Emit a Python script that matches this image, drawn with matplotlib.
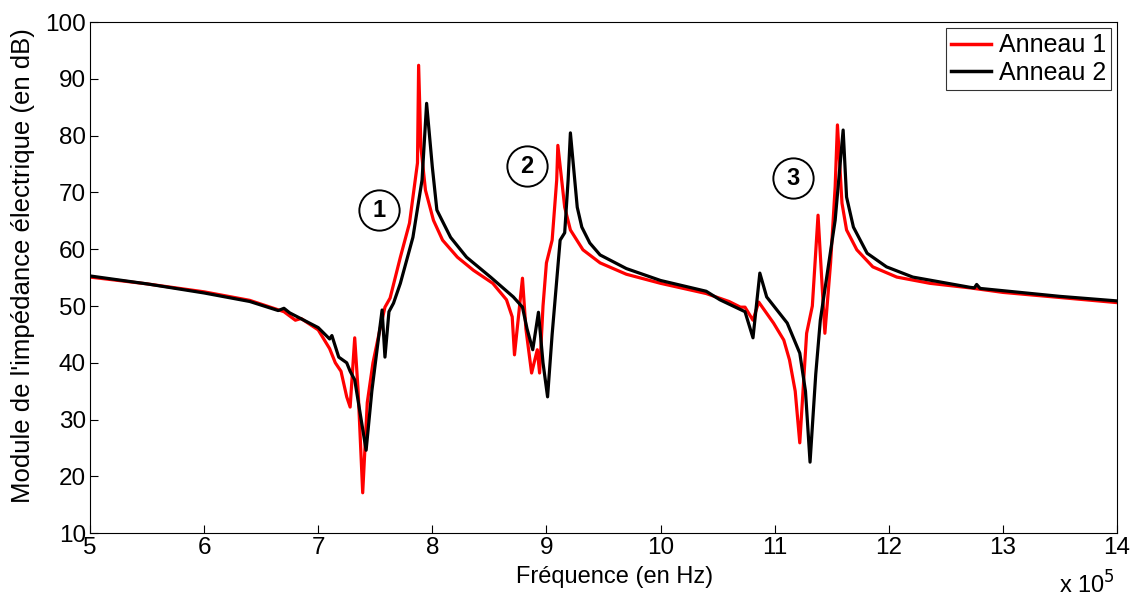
import matplotlib
matplotlib.use("Agg")
import matplotlib.pyplot as plt

plt.rcParams['font.family'] = ['Liberation Sans', 'DejaVu Sans']

# Frequencies in units of 1e5 Hz, module in dB
freq_1 = [5.0, 5.5, 6.0, 6.4, 6.7, 6.8, 6.85, 7.0, 7.1, 7.15, 7.2, 7.25, 7.28, 7.32, 7.35,
          7.39, 7.43, 7.48, 7.54, 7.585, 7.63, 7.72, 7.8, 7.87, 7.88, 7.9, 7.94,
          8.01, 8.09, 8.22, 8.36, 8.53, 8.65, 8.7, 8.72, 8.79, 8.82, 8.87, 8.92, 8.94,
          8.97, 9.0, 9.05, 9.09, 9.1, 9.16, 9.21, 9.32, 9.47, 9.7, 10.0, 10.4, 10.6, 10.7, 10.74,
          10.81, 10.86, 10.99, 11.08, 11.13, 11.18, 11.22, 11.28, 11.33, 11.38, 11.44, 11.49,
          11.53, 11.55, 11.59, 11.63, 11.72, 11.86, 12.07, 12.36, 12.71, 13.0, 13.5, 14.0]
mod_1 = [55.1, 53.9, 52.5, 51.0, 49.0, 47.5, 47.8, 45.8, 42.5, 40.0, 38.5, 34.0, 32.2, 44.4, 35.0,
         17.1, 33.0, 40.0, 45.8, 49.8, 51.4, 58.6, 64.6, 75.2, 92.4, 78.0, 70.4,
         65.1, 61.6, 58.6, 56.3, 54.0, 51.1, 48.1, 41.4, 54.9, 46.0, 38.2, 42.3, 38.2,
         50.0, 57.6, 61.6, 72.2, 78.3, 67.4, 63.4, 59.9, 57.6, 55.6, 54.0, 52.2, 50.8, 49.8, 49.8,
         47.5, 50.7, 47.0, 44.0, 40.5, 35.0, 25.9, 45.2, 50.0, 66.0, 45.2, 57.6,
         71.0, 81.9, 68.1, 63.4, 59.9, 56.9, 55.1, 54.0, 53.2, 52.4, 51.5, 50.6]

freq_2 = [5.0, 5.5, 6.0, 6.4, 6.65, 6.7, 6.75, 7.0, 7.1, 7.12, 7.18, 7.25, 7.28, 7.32, 7.37,
          7.42, 7.47, 7.52, 7.56, 7.585, 7.62, 7.66, 7.72, 7.83, 7.91, 7.95, 8.0, 8.04, 8.16,
          8.3, 8.51, 8.71, 8.79, 8.83, 8.88, 8.93, 8.97, 9.01, 9.05, 9.12, 9.16, 9.19, 9.21,
          9.27, 9.31, 9.38, 9.47, 9.7, 10.0, 10.4, 10.52, 10.74, 10.81, 10.87, 10.93, 11.11,
          11.22, 11.27, 11.31, 11.36, 11.4, 11.53, 11.6, 11.63, 11.69, 11.81, 11.98, 12.21,
          12.71, 12.75, 12.77, 12.8, 13.0, 13.5, 14.0]
mod_2 = [55.3, 53.9, 52.3, 50.8, 49.2, 49.6, 48.8, 46.2, 44.2, 44.8, 41.0, 40.0, 38.5, 37.0, 30.8,
         24.6, 35.0, 43.0, 49.3, 41.0, 49.0, 50.5, 54.0, 62.1, 72.2, 85.7, 74.5, 66.9, 62.1,
         58.6, 55.1, 51.6, 49.8, 46.0, 42.3, 48.9, 40.0, 34.0, 45.0, 61.6, 62.9, 72.2, 80.5,
         67.4, 63.9, 61.1, 59.0, 56.6, 54.5, 52.6, 51.1, 49.0, 44.4, 55.8, 51.6, 47.0,
         41.7, 35.0, 22.5, 38.0, 47.5, 65.1, 81.0, 69.2, 63.9, 59.3, 56.9, 55.1,
         53.3, 53.2, 53.8, 53.1, 52.7, 51.7, 50.9]

labels = ["Anneau 1", "Anneau 2"]
zone_labels = ["1", "2", "3"]
zone_x = [7.53, 8.83, 11.16]
zone_y = [66.9, 74.6, 72.5]

fig = plt.figure(figsize=(11.33, 5.99), dpi=100)
ax = fig.add_axes([0.0794, 0.110, 0.9065, 0.853])

ax.plot(freq_1, mod_1, color='#ff0000', lw=2.3, label=labels[0])
ax.plot(freq_2, mod_2, color='black', lw=2.3, label=labels[1])

ax.set_xlim(5, 14)
ax.set_ylim(10, 100)
ax.set_xticks(range(5, 15))
ax.set_yticks(range(10, 101, 10))
ax.tick_params(direction='in', labelsize=17.5, length=6, pad=3)
for s in ax.spines.values():
    s.set_linewidth(0.8)

fig.text(615 / 1133, 1 - 577 / 599, "Fréquence (en Hz)", fontsize=17, ha='center', va='center')
fig.text(23 / 1133, 1 - 266 / 599, "Module de l'impédance électrique (en dB)", fontsize=18.5,
         rotation=90, ha='center', va='center')
fig.text(1115 / 1133, 0.0, r"x 10$^5$", fontsize=17, ha='right', va='bottom')

for lab, zx, zy in zip(zone_labels, zone_x, zone_y):
    ax.plot([zx], [zy], marker='o', markersize=29, mfc='white', mec='black', mew=1.4, zorder=5)
    ax.text(zx, zy, lab, fontsize=17, fontweight='bold', ha='center', va='center', zorder=6)

leg = ax.legend(loc='upper right', fontsize=18, frameon=True, fancybox=False,
                borderpad=0.2, handlelength=1.6, handletextpad=0.3, labelspacing=0.15,
                borderaxespad=0.25)
leg.get_frame().set_edgecolor('black')
leg.get_frame().set_linewidth(0.8)
for h in leg.get_lines():
    h.set_linewidth(2.5)

fig.savefig("out.png", dpi=100)
